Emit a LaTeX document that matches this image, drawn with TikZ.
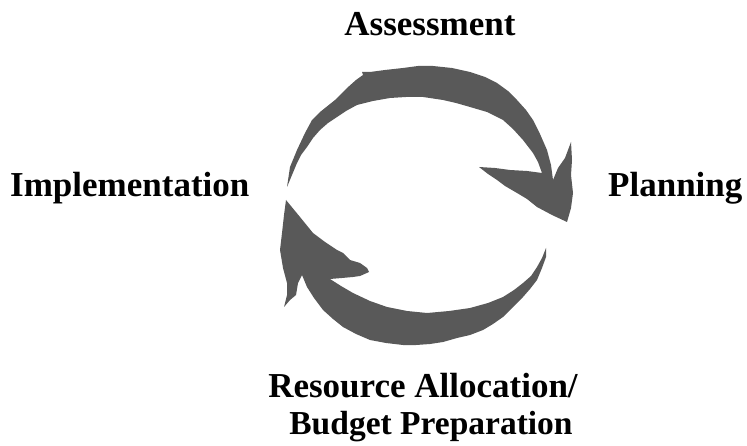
\documentclass[tikz,border=0pt]{standalone}
\usepackage{fontspec}
\setmainfont{Liberation Serif}
\begin{document}
\begin{tikzpicture}[x=1pt,y=-1pt,
  arrowshape/.style={fill=arrowgray,draw=none},
  lbl/.style={font=\fontsize{35}{36}\selectfont\bfseries,inner sep=0pt,anchor=base}]
\definecolor{arrowgray}{HTML}{595959}
\useasboundingbox (0,0) rectangle (747,446);
% top arrow (Assessment -> Planning)
\fill[arrowshape] (287,187) -- (290,167) -- (297,150) -- (305,133) -- (312,120) -- (320,112)
  -- (335,100) -- (347,88) -- (356,80) -- (363,75) -- (362,72) -- (370,72) -- (385,70) -- (403,68)
  -- (418,66) -- (433,66) -- (452,68) -- (470,72) -- (485,77) -- (497,83) -- (508,91) -- (517,100)
  -- (526,110) -- (533,120) -- (540,134) -- (547,150) -- (551,165) -- (553,180)
  -- (558,168) -- (565,158) -- (571,142) -- (572,160) -- (571,175) -- (573,193) -- (571,208) -- (567,222)
  -- (552,215) -- (537,207) -- (527,199) -- (517,193) -- (505,186) -- (497,180) -- (488,174) -- (479,167)
  -- (495,168) -- (510,170) -- (527,171) -- (542,173)
  -- (538,162) -- (533,153) -- (523,140) -- (513,129) -- (503,120) -- (487,112) -- (470,107)
  -- (456,103) -- (443,100) -- (423,97) -- (406,97) -- (390,98) -- (373,101) -- (357,105)
  -- (346,111) -- (337,117) -- (328,123) -- (320,130) -- (313,138) -- (307,147) -- (301,155)
  -- (297,163) -- (292,175) -- cycle;
% bottom arrow (Planning -> Implementation)
\fill[arrowshape] (546,248) -- (546,257) -- (542,268) -- (537,280) -- (530,289) -- (523,297)
  -- (513,307) -- (503,317) -- (493,324) -- (483,330) -- (470,335) -- (457,338) -- (443,342)
  -- (430,344) -- (416,345) -- (403,345) -- (386,343) -- (370,340) -- (356,334) -- (343,327)
  -- (333,319) -- (323,310) -- (314,298) -- (307,287) -- (302,275)
  -- (298,283) -- (296,295) -- (290,300) -- (284,307) -- (287,295) -- (287,283) -- (283,268)
  -- (280,250) -- (282,233) -- (284,215) -- (286,200)
  -- (300,217) -- (313,233) -- (325,242) -- (337,250) -- (343,253) -- (350,260) -- (360,263)
  -- (367,268) -- (369,272) -- (360,276) -- (353,277) -- (342,278) -- (330,279)
  -- (341,286) -- (353,293) -- (370,301) -- (387,307) -- (407,311) -- (427,313) -- (449,311)
  -- (470,308) -- (488,303) -- (503,297) -- (514,290) -- (523,283) -- (531,276) -- (537,267)
  -- (542,258) -- cycle;
\node[lbl] (assess) at (430,36) {Assessment};
\node[lbl,anchor=base west] (impl) at (10,197) {Implementation};
\node[lbl,anchor=base west] (plan) at (608,197) {Planning};
\node[lbl] (res) at (423,397) {Resource Allocation/};
\node[lbl,font=\fontsize{33.5}{36}\selectfont\bfseries] (budget) at (431,434) {Budget Preparation};
\end{tikzpicture}
\end{document}
